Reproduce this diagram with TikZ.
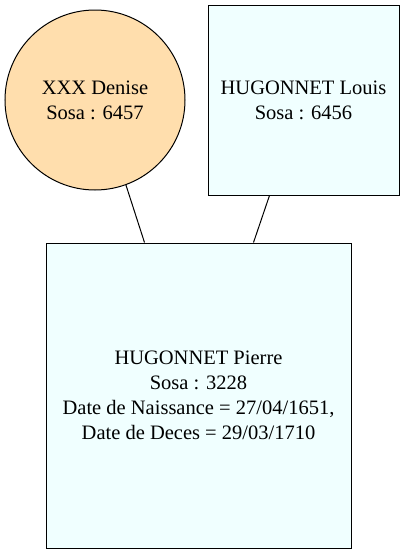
\documentclass[tikz,border=0pt]{standalone}
\usepackage{fontspec}
\setmainfont{Liberation Serif}
\definecolor{femme}{HTML}{FFDEAD}
\definecolor{homme}{HTML}{F0FFFF}
\tikzset{
    personne/.style={draw, line width=1pt, align=center, inner sep=0pt,
        font=\fontsize{20.5pt}{25pt}\selectfont},
    femmenode/.style={personne, circle, fill=femme, minimum size=180pt},
    hommenode/.style={personne, rectangle, fill=homme},
    lien/.style={line width=1pt}
}
\begin{document}
\begin{tikzpicture}[x=1pt,y=-1pt]
    \useasboundingbox (0,0) rectangle (405,555);
    \node[femmenode] (denise) at (95,100)
    {
        XXX Denise\\
        Sosa : 6457
    };
    \node[hommenode, minimum width=191pt, minimum height=190pt] (louis) at (303.5,100)
    {
        HUGONNET Louis\\
        Sosa : 6456
    };
    \node[hommenode, minimum width=305pt, minimum height=305pt] (pierre) at (198.5,395.5)
    {
        HUGONNET Pierre\\
        Sosa : 3228\\
        Date de Naissance = 27/04/1651,\\
        Date de Deces = 29/03/1710
    };
    \draw[lien](denise.-70.6)--([xshift=99pt]pierre.north west);
    \draw[lien]([xshift=62pt]louis.south west)--([xshift=208pt]pierre.north west);
\end{tikzpicture}
\end{document}
